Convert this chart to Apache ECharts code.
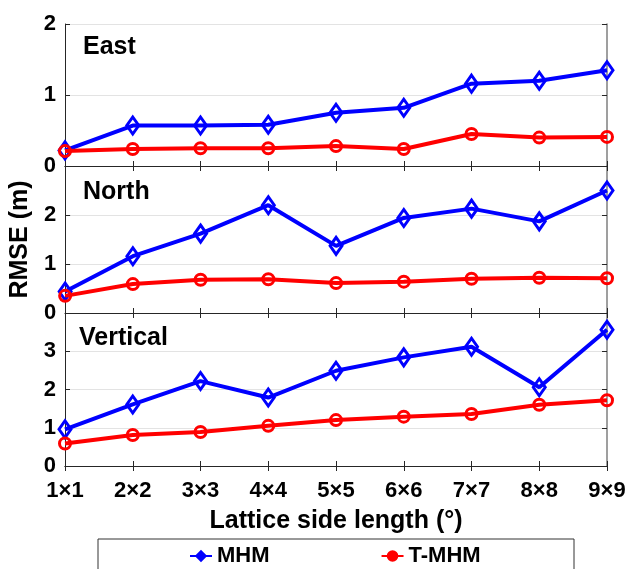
<!DOCTYPE html>
<html>
<head>
<meta charset="utf-8">
<script src="https://cdn.jsdelivr.net/npm/echarts@6/dist/echarts.min.js"></script>
<style>html,body{margin:0;padding:0;background:#fff}#c{width:630px;height:569px}</style>
</head>
<body>
<div id="c"></div>
<script>
const categories = ['1×1','2×2','3×3','4×4','5×5','6×6','7×7','8×8','9×9'];
const eastMHM  = [0.22, 0.57, 0.57, 0.58, 0.75, 0.82, 1.16, 1.20, 1.35];
const eastTMHM = [0.21, 0.24, 0.25, 0.25, 0.28, 0.24, 0.45, 0.40, 0.41];
const northMHM  = [0.44, 1.16, 1.62, 2.20, 1.37, 1.94, 2.13, 1.87, 2.50];
const northTMHM = [0.35, 0.59, 0.68, 0.69, 0.61, 0.64, 0.70, 0.72, 0.71];
const vertMHM  = [0.96, 1.61, 2.22, 1.79, 2.49, 2.84, 3.12, 2.06, 3.56];
const vertTMHM = [0.59, 0.81, 0.89, 1.05, 1.20, 1.29, 1.36, 1.60, 1.72];
const panelNames = ['East','North','Vertical'];
const yMax = [2, 3, 4];
const seriesNames = ['MHM','T-MHM'];

const FONT = 'Liberation Sans, Arial, Helvetica, sans-serif';
const BLUE = '#0000ff', RED = '#ff0000', AX = '#262626';

const grids = [
  {left: 65, width: 542, top: 24, height: 142},
  {left: 65, width: 542, top: 166, height: 147},
  {left: 65, width: 542, top: 313, height: 153}
];
const panelData = [[eastMHM, eastTMHM],[northMHM, northTMHM],[vertMHM, vertTMHM]];
const titleTops = [35, 180, 326];
const titleLefts = [83, 83, 79];

const xAxes = [], yAxes = [], series = [];
grids.forEach((g, i) => {
  const isLast = i === grids.length - 1;
  xAxes.push({
    type: 'category', gridIndex: i, data: categories, boundaryGap: false, position: 'bottom',
    axisLine: {lineStyle: {color: AX, width: 1}},
    axisTick: {inside: true, length: 5, lineStyle: {color: AX}},
    axisLabel: {show: isLast, color: '#000', fontFamily: FONT, fontWeight: 'bold', fontSize: 22, margin: 14},
    name: isLast ? 'Lattice side length (°)' : '', nameLocation: 'middle', nameGap: 43,
    nameTextStyle: {color: '#000', fontFamily: FONT, fontWeight: 'bold', fontSize: 25},
    splitLine: {show: false}
  });
  xAxes.push({
    type: 'category', gridIndex: i, data: categories, boundaryGap: false, position: 'top',
    axisLine: {lineStyle: {color: AX, width: 1}},
    axisTick: {inside: true, length: 5, lineStyle: {color: AX}},
    axisLabel: {show: false}, splitLine: {show: false}
  });
  const top = yMax[i];
  yAxes.push({
    type: 'value', gridIndex: i, min: 0, max: top, interval: 1, position: 'left',
    axisLine: {show: true, lineStyle: {color: AX, width: 1}},
    axisTick: {show: true, inside: true, length: 5, lineStyle: {color: AX}},
    axisLabel: {color: '#000', fontFamily: FONT, fontWeight: 'bold', fontSize: 22, margin: 9,
      formatter: v => (i > 0 && v === top) ? '' : String(v)},
    splitLine: {show: true, lineStyle: {color: '#e3e3e3', width: 1}},
    name: i === 1 ? 'RMSE (m)' : '', nameLocation: 'middle', nameGap: 28,
    nameTextStyle: {color: '#000', fontFamily: FONT, fontWeight: 'bold', fontSize: 25}
  });
  yAxes.push({
    type: 'value', gridIndex: i, min: 0, max: top, interval: 1, position: 'right',
    axisLine: {show: true, lineStyle: {color: '#7f7f7f', width: 1.5}},
    axisTick: {show: true, inside: true, length: 5, lineStyle: {color: AX}},
    axisLabel: {show: false}, splitLine: {show: false}
  });
  const [mhm, tmhm] = panelData[i];
  series.push({
    name: seriesNames[0], type: 'line', xAxisIndex: 2*i, yAxisIndex: 2*i, data: mhm,
    symbol: 'diamond', symbolSize: [12, 17], showAllSymbol: true,
    lineStyle: {color: BLUE, width: 4},
    itemStyle: {color: 'rgba(0,0,0,0)', borderColor: BLUE, borderWidth: 3},
    emphasis: {disabled: true}, animation: false, z: 2
  });
  series.push({
    name: seriesNames[1], type: 'line', xAxisIndex: 2*i, yAxisIndex: 2*i, data: tmhm,
    symbol: 'circle', symbolSize: 11, showAllSymbol: true,
    lineStyle: {color: RED, width: 4},
    itemStyle: {color: 'rgba(0,0,0,0)', borderColor: RED, borderWidth: 3},
    emphasis: {disabled: true}, animation: false, z: 3
  });
});

const titles = panelNames.map((t, i) => ({
  text: t, left: titleLefts[i], top: titleTops[i], padding: 0,
  textStyle: {color: '#000', fontFamily: FONT, fontWeight: 'bold', fontSize: 25}
}));

const chart = echarts.init(document.getElementById('c'), null, {renderer: 'canvas'});
chart.setOption({
  animation: false,
  backgroundColor: '#fff',
  title: titles,
  grid: grids,
  xAxis: xAxes,
  yAxis: yAxes,
  series: series,
  legend: {
    left: 189, top: 545, itemGap: 111, itemWidth: 22, itemHeight: 12, padding: 0,
    textStyle: {color: '#000', fontFamily: FONT, fontWeight: 'bold', fontSize: 22},
    data: [
      {name: 'MHM', itemStyle: {color: BLUE, borderColor: BLUE}},
      {name: 'T-MHM', itemStyle: {color: RED, borderColor: RED}}
    ]
  },
  graphic: [{
    type: 'rect', shape: {x: 98, y: 539, width: 476, height: 50},
    style: {fill: 'none', stroke: '#333', lineWidth: 1}, silent: true
  }]
});
</script>
</body>
</html>
